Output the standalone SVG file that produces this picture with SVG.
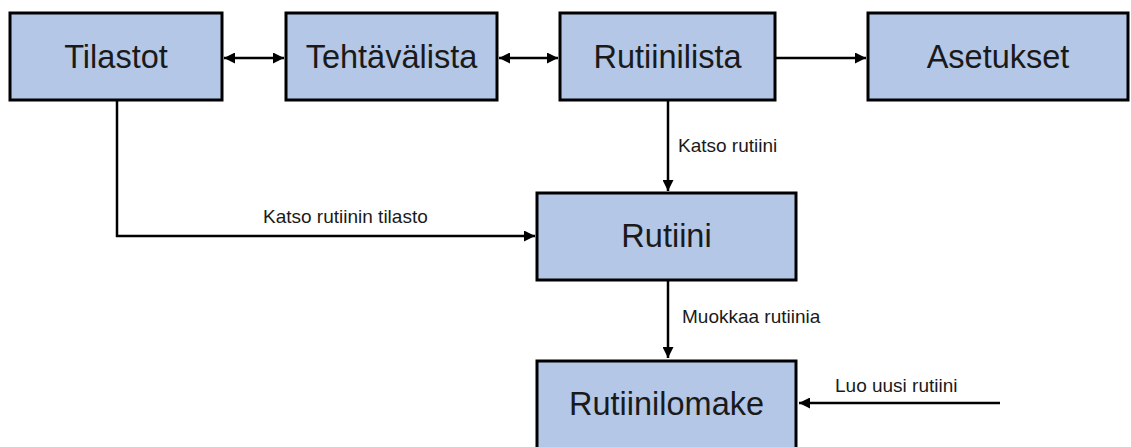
<svg xmlns="http://www.w3.org/2000/svg" width="1131" height="447" viewBox="0 0 1131 447">
<defs>
<marker id="ah" viewBox="0 0 10 10" refX="10" refY="5" markerWidth="4.6" markerHeight="4.4" orient="auto-start-reverse" markerUnits="strokeWidth">
<path d="M0,0 L10,5 L0,10 Z" fill="#000"/>
</marker>
<style>
.box{fill:#b4c7e7;stroke:#000;stroke-width:3}
.bl{font-family:"Liberation Sans",Arial,sans-serif;font-size:32.5px;fill:#1a1a1a;text-anchor:middle}
.el{font-family:"Liberation Sans",Arial,sans-serif;font-size:19px;fill:#1a1a1a}
.c{fill:none;stroke:#000;stroke-width:2.5}
</style>
</defs>
<rect width="1131" height="447" fill="#fff"/>
<g id="connectors">
<line class="c" x1="224" y1="58" x2="284" y2="58" marker-start="url(#ah)" marker-end="url(#ah)"/>
<line class="c" x1="499" y1="58" x2="558" y2="58" marker-start="url(#ah)" marker-end="url(#ah)"/>
<line class="c" x1="776" y1="58" x2="866" y2="58" marker-end="url(#ah)"/>
<line class="c" x1="668" y1="101" x2="668" y2="191" marker-end="url(#ah)"/>
<text class="el" x="678" y="152">Katso rutiini</text>
<polyline class="c" points="117,101 117,236 535,236" marker-end="url(#ah)"/>
<text class="el" x="263" y="223">Katso rutiinin tilasto</text>
<line class="c" x1="668" y1="281" x2="668" y2="358" marker-end="url(#ah)"/>
<text class="el" x="682" y="323">Muokkaa rutiinia</text>
<line class="c" x1="1000" y1="403" x2="799" y2="403" marker-end="url(#ah)"/>
<text class="el" x="835" y="392">Luo uusi rutiini</text>
</g>
<g id="tilastot"><rect class="box" x="10" y="13" width="212" height="87"/><text class="bl" x="116" y="68">Tilastot</text></g>
<g id="tehtavalista"><rect class="box" x="286" y="13" width="211" height="87"/><text class="bl" x="391.5" y="68">Tehtävälista</text></g>
<g id="rutiinilista"><rect class="box" x="560" y="13" width="215" height="87"/><text class="bl" x="667.5" y="68">Rutiinilista</text></g>
<g id="asetukset"><rect class="box" x="868" y="13" width="260" height="87"/><text class="bl" x="998" y="68">Asetukset</text></g>
<g id="rutiini"><rect class="box" x="537" y="193" width="259" height="87"/><text class="bl" x="666.5" y="247">Rutiini</text></g>
<g id="rutiinilomake"><rect class="box" x="537" y="361" width="259" height="100"/><text class="bl" x="666.5" y="415">Rutiinilomake</text></g>
</svg>
